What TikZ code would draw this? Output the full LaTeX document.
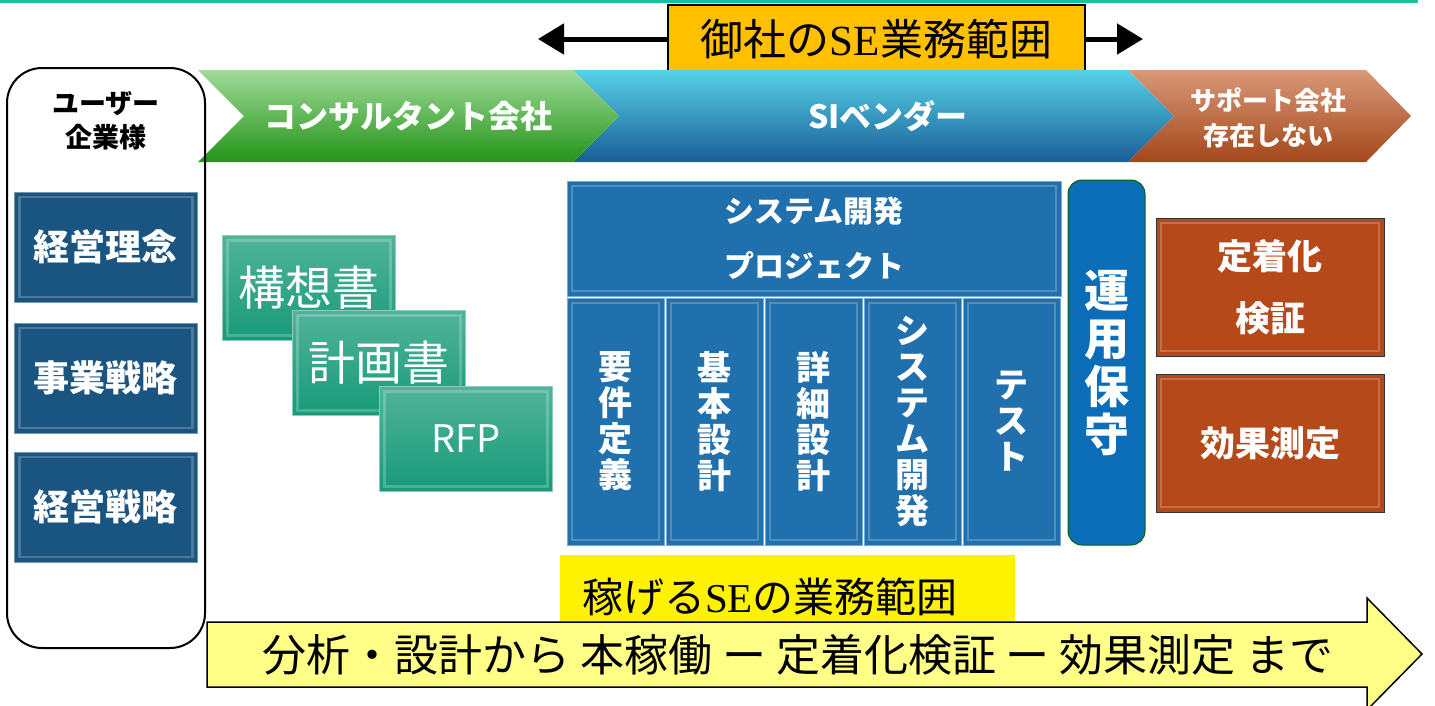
\documentclass[tikz,border=0pt]{standalone}
\usepackage{fontspec}
\newfontfamily\jp{Noto Sans CJK JP}
\newfontfamily\lser{Liberation Serif}
\usetikzlibrary{arrows.meta}

\newcommand\fsz[2]{\fontsize{#1}{#2}\selectfont}

\definecolor{topteal}{HTML}{14C39A}
\definecolor{scopeorange}{HTML}{FFC000}
\definecolor{keyblue}{HTML}{1A5480}
\definecolor{docgreen}{HTML}{179A78}
\definecolor{devblue}{HTML}{2070AE}
\definecolor{opsblue}{HTML}{0B6DB8}
\definecolor{suppbrown}{HTML}{B5491A}
\definecolor{flowyellow}{HTML}{FFFF88}
\definecolor{chevgreen}{HTML}{2AAE1C}
\definecolor{chevblue}{HTML}{1F6EB2}
\definecolor{chevorange}{HTML}{C0541F}

\tikzset{
  bevel/.style={path picture={
      \draw[white,opacity=.22,line width=2.5pt]
        ([shift={(5pt,-5pt)}]path picture bounding box.north west) rectangle
        ([shift={(-5pt,5pt)}]path picture bounding box.south east);}},
  scopebox/.style={draw=black, line width=1.5pt, fill=scopeorange, minimum width=417pt,
    minimum height=68pt, inner sep=0pt, font={\jp\fsz{43}{48}}},
  wide/.style={line width=5pt, -{Triangle[length=26pt,width=30pt]}},
  chevtxt/.style={text=white, font={\jp\bfseries\fsz{32}{36}}},
  keybox/.style={draw=keyblue!60!white, fill=keyblue, minimum width=183pt, minimum height=110pt,
    inner sep=0pt, text=white, font={\jp\bfseries\fsz{36}{40}}, bevel},
  docbox/.style={draw=docgreen!50!white, top color=docgreen!75!white, bottom color=docgreen,
    minimum width=173pt, minimum height=105pt, inner sep=0pt, text=white,
    font={\jp\fsz{47}{50}}, bevel},
  devbox/.style={draw=devblue!60!white, fill=devblue, inner sep=0pt, text=white,
    align=center, bevel},
  devcol/.style={devbox, minimum width=97pt, minimum height=247pt,
    font={\jp\bfseries\fsz{34}{36}}},
  opsbox/.style={draw=black!60!green, line width=1pt, fill=opsblue, rounded corners=14pt,
    minimum width=77pt, minimum height=365pt, inner sep=0pt, text=white, align=center,
    font={\jp\bfseries\fsz{45}{48}}},
  suppbox/.style={draw=black!80, line width=1pt, fill=suppbrown, minimum width=228pt,
    minimum height=138pt, inner sep=0pt, text=white, align=center,
    font={\jp\bfseries\fsz{35}{62}}, bevel}
}

\begin{document}
\begin{tikzpicture}[x=1pt,y=-1pt]
\useasboundingbox (0,0) rectangle (1435,705);
\fill[topteal] (0,0) rectangle (1418,3);

% our SE scope
\node[scopebox] (scope) at (876.5,39) {御社の{\lser SE}業務範囲};
\coordinate (sl) at (538,39);
\coordinate (sr) at (1143,39);
\draw[wide] (scope.west) -- (sl);
\draw[wide] (scope.east) -- (sr);

% chevrons
\shade[top color=chevblue!45!cyan!70!white, middle color=chevblue!90!cyan, bottom color=chevblue!85!black]
  (573,70) -- (1128,70) -- (1174,116) -- (1128,162) -- (573,162) -- (619,116) -- cycle;
\shade[top color=chevgreen!45!white, middle color=chevgreen, bottom color=chevgreen!85!black]
  (198,70) -- (573,70) -- (619,116) -- (573,162) -- (198,162) -- (244,116) -- cycle;
\shade[top color=chevorange!60!white, middle color=chevorange, bottom color=chevorange!85!black]
  (1128,70) -- (1366,70) -- (1411,116) -- (1366,162) -- (1128,162) -- (1174,116) -- cycle;
\node[chevtxt] (consult) at (408,116) {コンサルタント会社};
\node[chevtxt] (vendor) at (888,116) {SIベンダー};
\node[chevtxt, align=center, font={\jp\bfseries\fsz{26}{35}}] (support) at (1268,118) {サポート会社\\存在しない};

% user side
\node[draw=black, line width=2pt, rounded corners=35pt, minimum width=198pt,
  minimum height=580pt] (user) at (106,358) {};
\node[align=center, font={\jp\bfseries\fsz{27}{34}}] (usertxt) at (106,121) {ユーザー\\企業様};
\node[keybox] (idea) at (106,247) {経営理念};
\node[keybox] (biz) at (106,378) {事業戦略};
\node[keybox] (mgmt) at (106,507) {経営戦略};

% documents
\node[docbox] (plan) at (309,288) {構想書};
\node[docbox] (sched) at (379,363) {計画書};
\node[docbox, font={\jp\fsz{38}{42}}] (rfp) at (466,439) {RFP};

% system development
\node[devbox, minimum width=494pt, minimum height=115pt, font={\jp\bfseries\fsz{30}{55}}]
  (proj) at (814,238.5) {システム開発\\プロジェクト};
\foreach \txt [count=\i from 0] in {{要\\件\\定\\義},{基\\本\\設\\計},{詳\\細\\設\\計},
    {シ\\ス\\テ\\ム\\開\\発},{テ\\ス\\ト}}
  \node[devcol] (phase\i) at (615.5+99*\i,421.5) {\txt};
\node[opsbox] (ops) at (1106.5,362.5) {運\\用\\保\\守};

% support
\node[suppbox] (settle) at (1270,287) {定着化\\検証};
\node[suppbox] (effect) at (1270,443) {効果測定};

% earning scope and flow
\node[fill=yellow, minimum width=455pt, minimum height=67pt, inner sep=0pt] (hl) at (787.5,588.5) {};
\node[font={\jp\fsz{41}{46}}] (hltxt) at (770,597) {稼げる{\lser SE}の業務範囲};
\draw[fill=flowyellow, line width=1.5pt]
  (207,622) -- (1367,622) -- (1367,598) -- (1422,654) -- (1367,710) -- (1367,687) -- (207,687) -- cycle;
\node[font={\jp\fsz{44}{48}}] (flowtxt) at (798,655) {分析・設計から 本稼働 ー 定着化検証 ー 効果測定 まで};
\end{tikzpicture}
\end{document}
